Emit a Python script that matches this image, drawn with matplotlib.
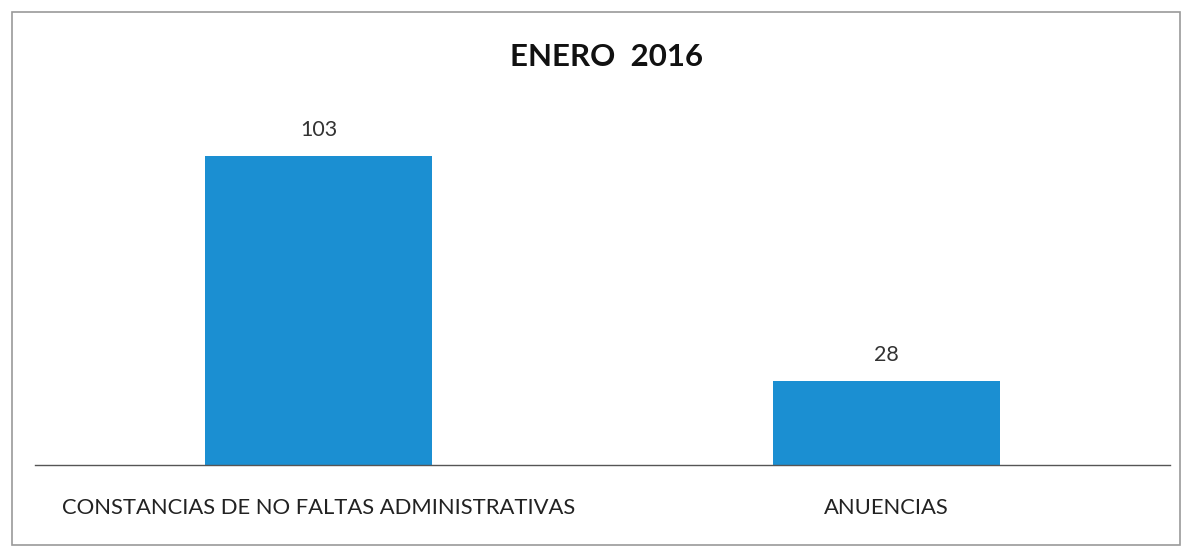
import matplotlib
matplotlib.use("Agg")
import matplotlib.pyplot as plt
from matplotlib.patches import Rectangle

categories = ["CONSTANCIAS DE NO FALTAS ADMINISTRATIVAS", "ANUENCIAS"]
values = [103, 28]
title = "ENERO  2016"

plt.rcParams['font.family'] = ['Lato', 'DejaVu Sans']

fig = plt.figure(figsize=(12, 5.52), dpi=100)
fig.patch.set_facecolor("white")
fig.add_artist(Rectangle((12/1200, 1 - 545/552), (1180-12)/1200, (545-12)/552,
                         transform=fig.transFigure, fill=False, edgecolor="#9a9a9a", lw=1.2))

ax = fig.add_axes([35/1200, 87/552, 1135/1200, 355/552])
x = list(range(len(categories)))
bars = ax.bar(x, values, width=0.40, color="#1b8fd2")
ax.set_xlim(-0.5, 1.5)
ax.set_ylim(0, 118.5)
for b, v in zip(bars, values):
    ax.text(b.get_x() + b.get_width()/2, v + 5.5, str(v), ha="center", va="bottom",
            fontsize=15.5, color="#333333")
ax.set_xticks(x)
ax.set_xticklabels(categories, fontsize=15.8, color="#222222")
ax.tick_params(axis="x", length=0, pad=24)
ax.set_yticks([])
for s in ["top", "left", "right"]:
    ax.spines[s].set_visible(False)
ax.spines["bottom"].set_color("#555555")
ax.spines["bottom"].set_linewidth(1.0)

fig.text(607/1200, 1 - 57/552, title, ha="center", va="center", fontsize=22.5,
         fontweight="bold", color="#111111")

fig.savefig("out.png", dpi=100)
